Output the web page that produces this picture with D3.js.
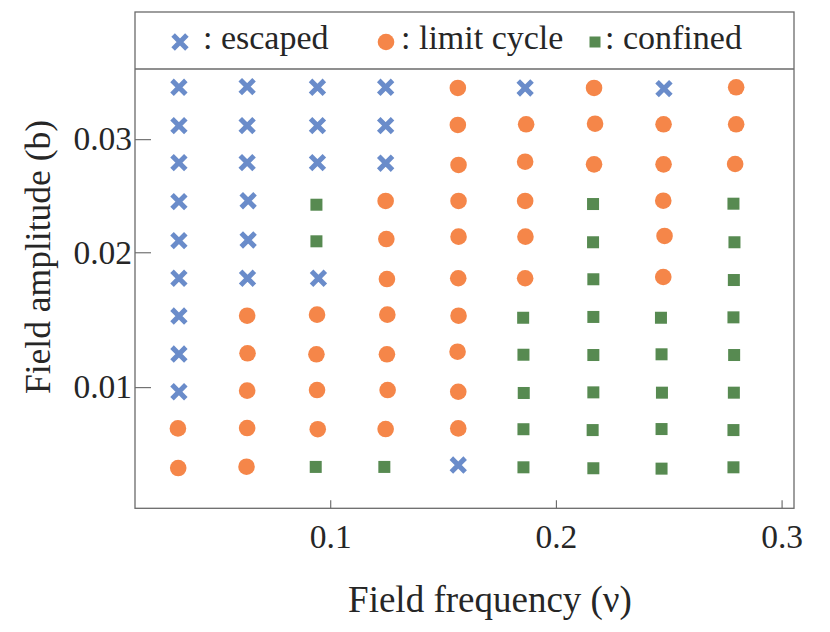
<!DOCTYPE html>
<html>
<head>
<meta charset="utf-8">
<script src="https://cdn.jsdelivr.net/npm/d3@7"></script>
<style>
  html, body { margin: 0; padding: 0; background: #fff; }
  svg { display: block; }
  text { font-family: "Liberation Serif", "DejaVu Serif", serif; fill: #262626; }
</style>
</head>
<body>
<svg id="chart" width="830" height="632"></svg>
<script>
// ---- data (field frequency ν, field amplitude b) ----
const escapedNu = [
  0.03296, 0.03296, 0.03296, 0.03296, 0.03296, 0.03296, 0.03296, 0.03296, 0.03296,
  0.06319, 0.06319, 0.06319, 0.06363, 0.06363, 0.06336,
  0.09434, 0.09434, 0.09434, 0.09478,
  0.12456, 0.12456, 0.12456,
  0.15673, 0.18637, 0.24788
];
const escapedB = [
  0.03502, 0.03128, 0.02781, 0.02431, 0.02096, 0.01790, 0.01499, 0.01224, 0.00970,
  0.03508, 0.03128, 0.02781, 0.02439, 0.02102, 0.01790,
  0.03502, 0.03128, 0.02781, 0.01790,
  0.03502, 0.03128, 0.02776,
  0.00537, 0.03495, 0.03488
];
const limitNu = [
  0.03252, 0.03265,
  0.06319, 0.06336, 0.06319, 0.06319, 0.06292,
  0.09416, 0.09389, 0.09416, 0.09447,
  0.12456, 0.12487, 0.12513, 0.12531, 0.12513, 0.12544, 0.12456,
  0.15655, 0.15655, 0.15686, 0.15686, 0.15686, 0.15673, 0.15686, 0.15642, 0.15673, 0.15673,
  0.18681, 0.18637, 0.18637, 0.18650, 0.18637,
  0.21690, 0.21735, 0.21690,
  0.24770, 0.24770, 0.24757, 0.24814, 0.24757,
  0.27987, 0.27987, 0.27942
];
const limitB = [
  0.00743, 0.00521,
  0.01501, 0.01229, 0.00977, 0.00745, 0.00528,
  0.01509, 0.01222, 0.00981, 0.00738,
  0.02437, 0.02110, 0.01784, 0.01509, 0.01222, 0.00981, 0.00739,
  0.03495, 0.03135, 0.02760, 0.02437, 0.02130, 0.01790, 0.01501, 0.01240, 0.00970, 0.00743,
  0.03141, 0.02790, 0.02437, 0.02130, 0.01790,
  0.03495, 0.03147, 0.02766,
  0.03141, 0.02766, 0.02439, 0.02136, 0.01800,
  0.03502, 0.03141, 0.02769
];
const confinedNu = [
  0.09389, 0.09389, 0.09358,
  0.12398,
  0.18549, 0.18562, 0.18575, 0.18562, 0.18562,
  0.21646, 0.21646, 0.21659, 0.21659, 0.21659, 0.21659, 0.21628, 0.21659,
  0.24655, 0.24681, 0.24699, 0.24681, 0.24681,
  0.27867, 0.27912, 0.27885, 0.27867, 0.27898, 0.27885, 0.27867, 0.27867
];
const confinedB = [
  0.02404, 0.02091, 0.00527,
  0.00527,
  0.01486, 0.01219, 0.00962, 0.00738, 0.00525,
  0.02410, 0.02083, 0.01782, 0.01492, 0.01217, 0.00966, 0.00733, 0.00520,
  0.01486, 0.01222, 0.00964, 0.00739, 0.00518,
  0.02413, 0.02083, 0.01776, 0.01489, 0.01217, 0.00964, 0.00733, 0.00525
];
const xTicks = [0.1, 0.2, 0.3];
const yTicks = [0.01, 0.02, 0.03];
const legendLabels = [": escaped", ": limit cycle", ": confined"];
const xTitle = "Field frequency (\u03bd)";
const yTitle = "Field amplitude (b)";

// ---- layout ----
const colors = { escaped: "#6a8cca", limit: "#f58649", confined: "#578a51" };
const L = 135, R = 794, T = 12, LEGB = 69, B = 508.3;
const svg = d3.select("#chart");

const x = d3.scaleLinear().domain([0.0135, 0.3055]).range([L, R]);
const y = d3.scalePow().exponent(2 / 3).domain([0.003245, 0.036849]).range([B, LEGB]);

// axes
const gx = svg.append("g").attr("transform", `translate(0,${B})`)
  .call(d3.axisBottom(x).tickValues(xTicks).tickFormat(d3.format(".1f"))
        .tickSizeInner(-8).tickSizeOuter(0).tickPadding(15.5));
const gy = svg.append("g").attr("transform", `translate(${L},0)`)
  .call(d3.axisLeft(y).tickValues(yTicks).tickFormat(d3.format(".2f"))
        .tickSizeInner(-16).tickSizeOuter(0).tickPadding(3));
[gx, gy].forEach(g => {
  g.select(".domain").remove();
  g.selectAll(".tick line").attr("stroke", "#666").attr("stroke-width", 1.1);
  g.selectAll(".tick text").attr("font-size", 33.5)
    .attr("font-family", "Liberation Serif, serif").attr("fill", "#262626");
});

// frame
svg.append("rect").attr("x", L).attr("y", T).attr("width", R - L).attr("height", B - T)
  .attr("fill", "none").attr("stroke", "#6a6a6a").attr("stroke-width", 1.3);
svg.append("line").attr("x1", L).attr("x2", R).attr("y1", LEGB).attr("y2", LEGB)
  .attr("stroke", "#6a6a6a").attr("stroke-width", 1.3);

// markers
const s = 6.9, crossW = 5, rad = 8.3, sq = 12;
function cross(g, cx, cy) {
  g.append("path")
    .attr("d", `M${cx - s},${cy - s}L${cx + s},${cy + s}M${cx - s},${cy + s}L${cx + s},${cy - s}`)
    .attr("stroke", colors.escaped).attr("stroke-width", crossW).attr("fill", "none");
}
const pts = svg.append("g");
escapedNu.forEach((v, i) => cross(pts, x(v), y(escapedB[i])));
pts.selectAll("circle.lc").data(limitNu).join("circle").attr("class", "lc")
  .attr("cx", d => x(d)).attr("cy", (d, i) => y(limitB[i])).attr("r", rad)
  .attr("fill", colors.limit);
pts.selectAll("rect.cf").data(confinedNu).join("rect").attr("class", "cf")
  .attr("x", d => x(d) - sq / 2).attr("y", (d, i) => y(confinedB[i]) - sq / 2)
  .attr("width", sq).attr("height", sq).attr("fill", colors.confined);

// legend
const leg = svg.append("g");
cross(leg, 180, 42);
leg.append("circle").attr("cx", 386).attr("cy", 42).attr("r", rad).attr("fill", colors.limit);
leg.append("rect").attr("x", 595 - 5.5).attr("y", 42 - 5.5).attr("width", 11).attr("height", 11)
  .attr("fill", colors.confined);
const legX = [203, 401, 605];
legendLabels.forEach((t, i) => {
  leg.append("text").attr("x", legX[i]).attr("y", 49).attr("font-size", 34).text(t);
});

// titles
svg.append("text").attr("x", 490).attr("y", 612).attr("text-anchor", "middle")
  .attr("font-size", 37).text(xTitle);
svg.append("text").attr("transform", "translate(50,257) rotate(-90)")
  .attr("text-anchor", "middle").attr("font-size", 35.5).text(yTitle);
</script>
</body>
</html>
